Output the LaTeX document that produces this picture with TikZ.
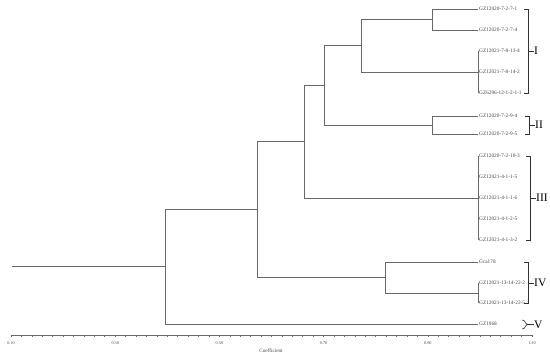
\documentclass[tikz,border=0pt]{standalone}
\usepackage{fontspec}
\setmainfont{Liberation Serif}
\definecolor{linegray}{RGB}{105,105,105}
\definecolor{labgray}{RGB}{70,70,70}
\definecolor{brgray}{RGB}{50,50,50}
\begin{document}
\begin{tikzpicture}[x=1pt,y=-1pt,
  tree/.style={draw=linegray, line width=0.85pt},
  leaf/.style={anchor=west, inner xsep=1pt, inner ysep=0pt, font=\fontsize{5.3}{6}\selectfont, text=labgray},
  roman/.style={anchor=west, inner sep=0pt, font=\fontsize{11.5}{12}\selectfont, text=black},
  brk/.style={draw=brgray, line width=0.6pt},
  axlab/.style={inner sep=0pt, font=\fontsize{4.2}{5}\selectfont, text=labgray},
  axline/.style={draw=linegray, line width=0.6pt}]
\useasboundingbox (0,0) rectangle (550,358);

% leaves
\node[leaf] (l1)  at (478,9)   {GZ12020-7-2-7-1};
\node[leaf] (l2)  at (478,30)  {GZ12020-7-2-7-4};
\node[leaf] (l3)  at (478,51)  {GZ12021-7-8-13-4};
\node[leaf] (l4)  at (478,72)  {GZ12021-7-8-14-2};
\node[leaf] (l5)  at (478,93)  {GZ6296-12-1-2-1-1};
\node[leaf] (l6)  at (478,116) {GZ12020-7-2-9-4};
\node[leaf] (l7)  at (478,134) {GZ12020-7-2-9-5};
\node[leaf] (l8)  at (478,156) {GZ12020-7-2-10-3};
\node[leaf] (l9)  at (478,177) {GZ12021-4-1-1-5};
\node[leaf] (l10) at (478,198) {GZ12021-4-1-1-6};
\node[leaf] (l11) at (478,219) {GZ12021-4-1-2-5};
\node[leaf] (l12) at (478,240) {GZ12021-4-1-3-2};
\node[leaf] (l13) at (478,262) {Gca178};
\node[leaf] (l14) at (478,283) {GZ12021-13-14-22-2};
\node[leaf] (l15) at (478,303) {GZ12021-13-14-22-5};
\node[leaf] (l16) at (478,324) {GZ1968};

% internal nodes
\coordinate (n12)   at (432,19.5);
\coordinate (n345)  at (478,72);
\coordinate (nD)    at (361,45.75);
\coordinate (nII)   at (432,125);
\coordinate (nC)    at (324,85.4);
\coordinate (nIII)  at (478,198);
\coordinate (nB)    at (304,141.7);
\coordinate (n1415) at (478,293);
\coordinate (nIV)   at (385,277.5);
\coordinate (nA)    at (257,209.6);
\coordinate (nR)    at (165,266.8);
\coordinate (root)  at (12,266.8);

% tree
\draw[tree] (n12) |- (l1.west);
\draw[tree] (n12) |- (l2.west);
\draw[tree] (l3.west) -- (l5.west);
\draw[tree] (nD) |- (n12);
\draw[tree] (nD) |- (n345);
\draw[tree] (nII) |- (l6.west);
\draw[tree] (nII) |- (l7.west);
\draw[tree] (nC) |- (nD);
\draw[tree] (nC) |- (nII);
\draw[tree] (l8.west) -- (l12.west);
\draw[tree] (nB) |- (nC);
\draw[tree] (nB) |- (nIII);
\draw[tree] (l14.west) -- (l15.west);
\draw[tree] (nIV) |- (l13.west);
\draw[tree] (nIV) |- (n1415);
\draw[tree] (nA) |- (nB);
\draw[tree] (nA) |- (nIV);
\draw[tree] (nR) |- (nA);
\draw[tree] (nR) |- (l16.west);
\draw[tree] (root) -- (nR);

% brackets and cluster labels
\draw[brk] (524,9) -- (528,9) -- (528,93) -- (524,93);
\node[roman] (rI) at (534,51) {I};
\draw[brk] (528,51) -- (rI.west);

\draw[brk] (525,116) -- (529,116) -- (529,134) -- (525,134);
\node[roman] (rII) at (535,125) {II};
\draw[brk] (529,125) -- (rII.west);

\draw[brk] (526,156) -- (530,156) -- (530,240) -- (526,240);
\node[roman] (rIII) at (536,198) {III};
\draw[brk] (530,198) -- (rIII.west);

\draw[brk] (524,262) -- (528,262) -- (528,303) -- (524,303);
\node[roman] (rIV) at (534,283) {IV};
\draw[brk] (528,283) -- (rIV.west);

\draw[brk] (522,320) .. controls (526,320) and (525,324.5) .. (528,324.5)
                     .. controls (525,324.5) and (526,329) .. (522,329);
\node[roman] (rV) at (534,324.5) {V};
\draw[brk] (528,324.5) -- (rV.west);

% axis
\draw[axline] (11,335) -- (532,335);
\foreach \i in {0,...,50} \draw[axline] (11+\i*10.42,335) -- ++(0,2.5);
\foreach \k/\t in {0/0.10,1/0.30,2/0.50,3/0.70,4/0.90,5/1.10}
  \node[axlab] (ax\k) at (11+\k*104.2,343) {\t};
\node[inner sep=0pt, font=\fontsize{5.2}{6}\selectfont, text=labgray] (coef) at (271,351) {Coefficient};
\end{tikzpicture}
\end{document}
